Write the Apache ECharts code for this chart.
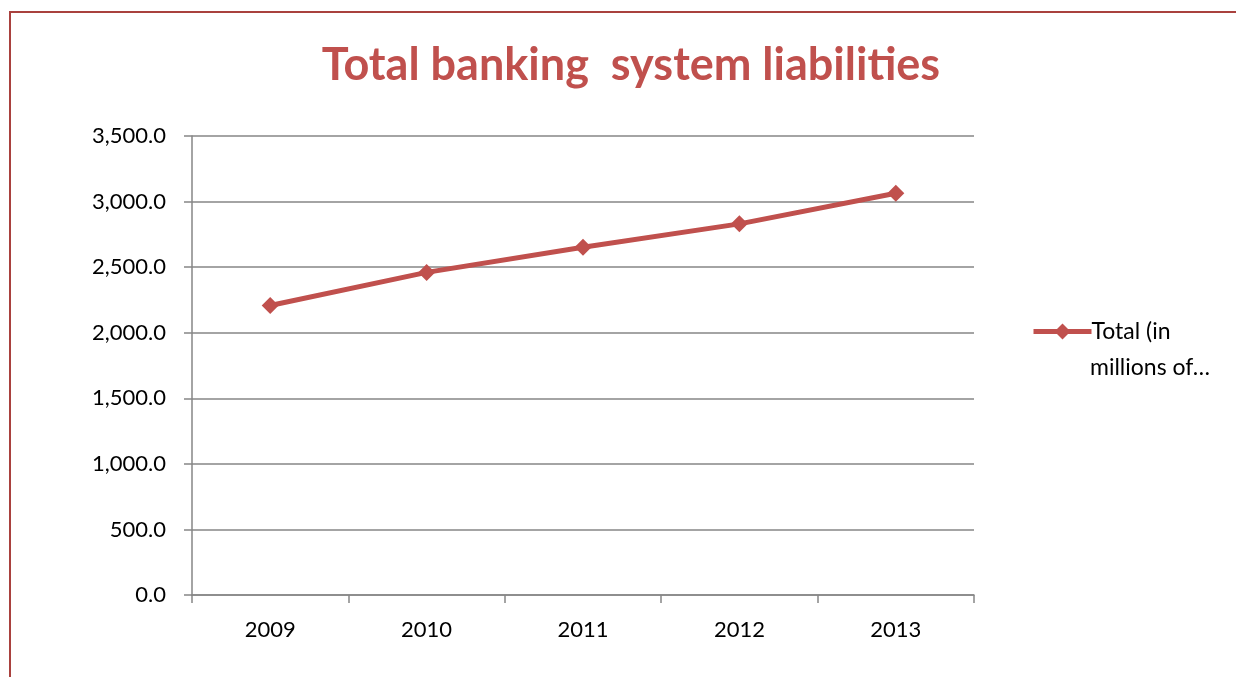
<!DOCTYPE html>
<html>
<head>
<meta charset="utf-8">
<title>Total banking system liabilities</title>
<script src="https://cdn.jsdelivr.net/npm/echarts@6/dist/echarts.min.js"></script>
<style>
  html, body { margin: 0; padding: 0; background: #fff; overflow: hidden; }
  #main { position: absolute; left: 0; top: 0; width: 1236px; height: 677px; }
  #frame { position: absolute; left: 9px; top: 11px; width: 1400px; height: 800px;
           border-left: 2px solid #A9413E; border-top: 2px solid #A9413E; pointer-events: none; }
</style>
</head>
<body>
<div id="main"></div>
<div id="frame"></div>
<script>
// 数据
const years = ['2009', '2010', '2011', '2012', '2013']
const liabilities = [2208, 2460, 2652, 2830, 3063]
const seriesName = 'Total (in'
const seriesNameRest = 'millions of…'

const myChart = echarts.init(document.getElementById('main'))
const font = 'Lato, "Open Sans", sans-serif'

const option = {
  animation: false,
  title: {
    text: 'Total banking  system liabilities',
    left: 626,
    textAlign: 'center',
    top: 38,
    textStyle: {
      color: '#C0504D',
      fontSize: 45,
      fontWeight: 'bold',
      fontFamily: font
    }
  },
  grid: {
    left: 192,
    right: 262,
    top: 136,
    bottom: 82
  },
  legend: {
    data: [seriesName],
    left: 1031,
    top: 320,
    padding: 0,
    itemWidth: 58,
    itemHeight: 20,
    itemGap: 2,
    lineStyle: { width: 5 },
    textStyle: {
      fontSize: 23,
      fontFamily: font,
      color: '#000',
      padding: [0, 0, 0, -5]
    }
  },
  // 图例第二行文字
  graphic: [{
    type: 'text',
    left: 1090,
    top: 356,
    style: {
      text: seriesNameRest,
      fontSize: 23,
      fontFamily: font,
      fill: '#000'
    }
  }],
  xAxis: {
    type: 'category',
    data: years,
    boundaryGap: true,
    axisLine: { lineStyle: { color: '#868686', width: 1.5 } },
    axisTick: { show: true, length: 8, lineStyle: { color: '#868686', width: 1.5 } },
    axisLabel: {
      margin: 24,
      fontSize: 22,
      fontFamily: font,
      color: '#000'
    }
  },
  yAxis: {
    type: 'value',
    min: 0,
    max: 3500,
    interval: 500,
    axisLine: { show: true, lineStyle: { color: '#868686', width: 1.5 } },
    axisTick: { show: true, length: 8, lineStyle: { color: '#868686', width: 1.5 } },
    splitLine: { lineStyle: { color: '#868686', width: 1.5 } },
    axisLabel: {
      margin: 26,
      fontSize: 22,
      fontFamily: font,
      color: '#000',
      formatter: function (v) {
        return v.toLocaleString('en-US', { minimumFractionDigits: 1, maximumFractionDigits: 1 })
      }
    }
  },
  series: [
    {
      name: seriesName,
      type: 'line',
      data: liabilities,
      symbol: 'diamond',
      symbolSize: 17,
      lineStyle: { color: '#C0504D', width: 5 },
      itemStyle: { color: '#C0504D' }
    }
  ]
}
myChart.setOption(option)
</script>
</body>
</html>
